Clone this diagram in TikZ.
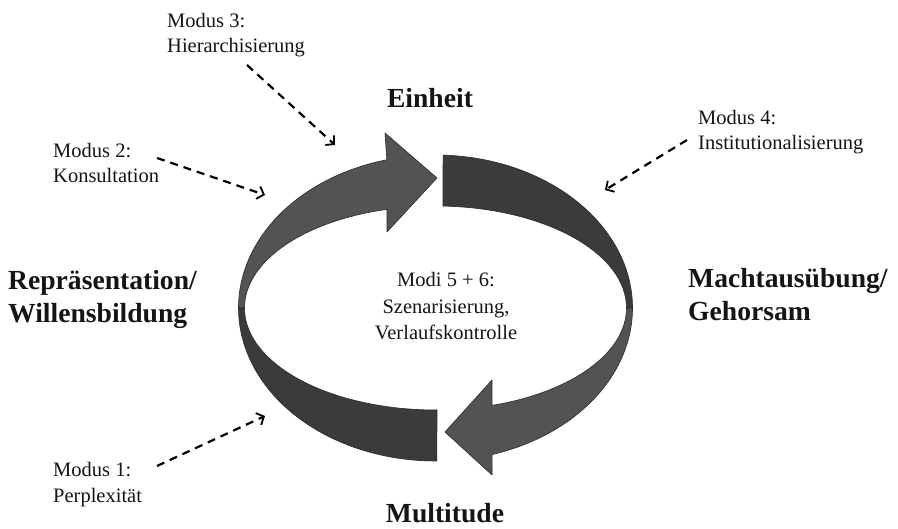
\documentclass[tikz,border=0pt]{standalone}
\usepackage{fontspec}
\setmainfont{Liberation Serif}
\usetikzlibrary{arrows.meta}
\definecolor{banddark}{HTML}{3B3B3B}
\definecolor{bandmid}{HTML}{535353}
\definecolor{bandline}{HTML}{2A2A2A}
\definecolor{txt}{HTML}{151515}
\begin{document}
\begin{tikzpicture}[x=1pt,y=1pt,
  modlbl/.style={inner sep=0pt, anchor=base west, text=txt, font=\fontsize{20.5pt}{25pt}\selectfont},
  biglbl/.style={inner sep=0pt, text=txt, font=\fontsize{27.6pt}{33pt}\selectfont\bfseries},
  dasharrow/.style={line width=2.2pt, dash pattern=on 8pt off 6pt, black,
    -{Straight Barb[length=6pt,width=13pt,line width=1.8pt]}},
  bandpart/.style={draw=bandline, line width=0.6pt, line join=round}
]
\useasboundingbox (0,0) rectangle (898,529);
\fill[white] (0,0) rectangle (898,529);
\coordinate (C) at (435.5,221);

% ---- left arrow (Multitude -> Einheit) ----
\coordinate (A1) at (385,396);
\coordinate (Atip) at (437,351);
\coordinate (A2) at (387,297);
\path[bandpart, fill=banddark]
  ([shift={(270.4:197pt and 153pt)}]C) arc[start angle=270.4, end angle=180, x radius=197pt, y radius=153pt]
  -- ([shift={(180:191pt and 102pt)}]C) arc[start angle=180, end angle=270.45, x radius=191pt, y radius=102pt]
  -- cycle;
\path[bandpart, fill=bandmid]
  ([shift={(180:197pt and 153pt)}]C) arc[start angle=180, end angle=104.3, x radius=197pt, y radius=153pt]
  -- (A1) -- (Atip) -- (A2)
  -- ([shift={(104.7:191pt and 102pt)}]C) arc[start angle=104.7, end angle=180, x radius=191pt, y radius=102pt]
  -- cycle;

% ---- right arrow (Einheit -> Multitude) ----
\coordinate (B1) at (492,149);
\coordinate (Btip) at (445,97);
\coordinate (B2) at (492,54);
\path[bandpart, fill=banddark]
  ([shift={(87.8:197pt and 153pt)}]C) arc[start angle=87.8, end angle=0, x radius=197pt, y radius=153pt]
  -- ([shift={(0:191pt and 102pt)}]C) arc[start angle=0, end angle=87.75, x radius=191pt, y radius=102pt]
  -- cycle;
\path[bandpart, fill=bandmid]
  ([shift={(0:197pt and 153pt)}]C) arc[start angle=0, end angle=-73.3, x radius=197pt, y radius=153pt]
  -- (B2) -- (Btip) -- (B1)
  -- ([shift={(-72.8:191pt and 102pt)}]C) arc[start angle=-72.8, end angle=0, x radius=191pt, y radius=102pt]
  -- cycle;

% ---- labels ----
\node[biglbl, anchor=base] (einheit) at (430,421) {Einheit};
\node[biglbl, anchor=base] (multitude) at (445,6) {Multitude};
\node[biglbl, anchor=base west] (repr) at (8,239)
  {\begin{tabular}[t]{@{}l@{}}Repräsentation/\\Willensbildung\end{tabular}};
\node[biglbl, anchor=base west] (macht) at (688,241)
  {\begin{tabular}[t]{@{}l@{}}Machtausübung/\\Gehorsam\end{tabular}};
\node[modlbl, anchor=base, font=\fontsize{20.5pt}{26.5pt}\selectfont] (modi) at (446,242)
  {\begin{tabular}[t]{@{}c@{}}Modi 5 + 6:\\Szenarisierung,\\Verlaufskontrolle\end{tabular}};
\node[modlbl] (m3) at (167,501) {\begin{tabular}[t]{@{}l@{}}Modus 3:\\Hierarchisierung\end{tabular}};
\node[modlbl] (m2) at (53,371) {\begin{tabular}[t]{@{}l@{}}Modus 2:\\Konsultation\end{tabular}};
\node[modlbl] (m4) at (698,404) {\begin{tabular}[t]{@{}l@{}}Modus 4:\\Institutionalisierung\end{tabular}};
\node[modlbl, font=\fontsize{20.5pt}{26pt}\selectfont] (m1) at (53,52) {\begin{tabular}[t]{@{}l@{}}Modus 1:\\Perplexität\end{tabular}};

% ---- dashed arrows ----
\coordinate (m3s) at (247,464); \coordinate (m3e) at (335,384);
\coordinate (m2s) at (157,371); \coordinate (m2e) at (265,334);
\coordinate (m4s) at (687,389); \coordinate (m4e) at (605,339);
\coordinate (m1s) at (157,63);  \coordinate (m1e) at (265,113);
\draw[dasharrow] (m3s) -- (m3e);
\draw[dasharrow] (m2s) -- (m2e);
\draw[dasharrow] (m4s) -- (m4e);
\draw[dasharrow] (m1s) -- (m1e);
\end{tikzpicture}
\end{document}
